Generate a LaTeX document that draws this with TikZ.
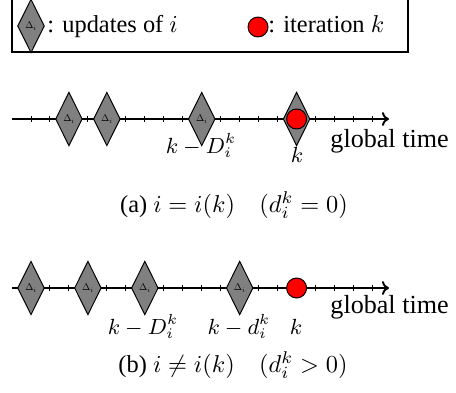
\documentclass[tikz,border=0pt]{standalone}
\usepackage[no-math]{fontspec}
\setmainfont{Liberation Serif}
\usepackage{amsmath,amssymb}
\usetikzlibrary{shapes.geometric,arrows.meta}

\newcommand{\dlt}{\scalebox{0.4}{$\Delta_i$}}

\begin{document}
\begin{tikzpicture}[x=0.41pt,y=-0.41pt,
    upd/.style={diamond,draw,fill=gray,line width=0.4pt,inner sep=0pt,minimum width=11pt,minimum height=22pt},
    itk/.style={circle,draw,fill=red,line width=0.4pt,inner sep=0pt,minimum size=8.2pt},
    axis/.style={line width=0.8pt,-{To[length=2.9pt,width=5.7pt]}},
    tick/.style={line width=0.4pt},
    lab/.style={anchor=base,inner sep=0.5pt,font=\small},
    gt/.style={anchor=base west,inner sep=0pt,font=\fontsize{10.7}{12}\selectfont},
    txt/.style={anchor=base west,inner sep=0pt}]
    \useasboundingbox (0,0) rectangle (456,392);

    % legend
    \draw[line width=0.5pt] (12,0) -- (12,52) -- (408,52) -- (408,0);
    \node[upd] (lu) at (31,26) {\dlt};
    \node[txt] (lut) at (47,33) {: updates of $i$};
    \node[itk] (lk) at (258,27) {};
    \node[txt] (lkt) at (268,33) {: iteration $k$};

    % (a)
    \coordinate (sa) at (12,119);
    \coordinate (ea) at (389,119);
    \draw[axis] (sa) -- (ea);
    \foreach \m in {0,1,3,5,6,7,8,10,11,12,13,15,16,17,18}
        \draw[tick] ({31+18.97*\m},116) -- ++(0,6);
    \node[upd] (ua1) at ({31+18.97*2},119) {\dlt};
    \node[upd] (ua2) at ({31+18.97*4},119) {\dlt};
    \node[upd] (ua3) at ({31+18.97*9},119) {\dlt};
    \node[upd] (ua4) at ({31+18.97*14},119) {\dlt};
    \node[itk] (ka) at ({31+18.97*14},119) {};
    \node[lab] (Da) at (201,153) {$k-D_i^k$};
    \node[lab] (kla) at (297,162) {$k$};
    \node[gt] (gta) at (330,147) {global time};
    \node[anchor=base] (capa) at (234,212) {(a) $i=i(k)$\quad$(d_i^k=0)$};

    % (b)
    \coordinate (sb) at (12,288);
    \coordinate (eb) at (389,288);
    \draw[axis] (sb) -- (eb);
    \foreach \m in {1,2,4,5,7,8,9,10,12,13,15,16,17,18}
        \draw[tick] ({31+18.97*\m},285) -- ++(0,6);
    \node[upd] (ub1) at ({31+18.97*0},288) {\dlt};
    \node[upd] (ub2) at ({31+18.97*3},288) {\dlt};
    \node[upd] (ub3) at ({31+18.97*6},288) {\dlt};
    \node[upd] (ub4) at ({31+18.97*11},288) {\dlt};
    \node[itk] (kb) at ({31+18.97*14},288) {};
    \node[lab] (Db) at (143,334) {$k-D_i^k$};
    \node[lab] (db) at (239,334) {$k-d_i^k$};
    \node[lab] (klb) at (296,334) {$k$};
    \node[gt] (gtb) at (330,313) {global time};
    \node[anchor=base] (capb) at (233,372) {(b) $i\neq i(k)$\quad$(d_i^k>0)$};
\end{tikzpicture}
\end{document}
